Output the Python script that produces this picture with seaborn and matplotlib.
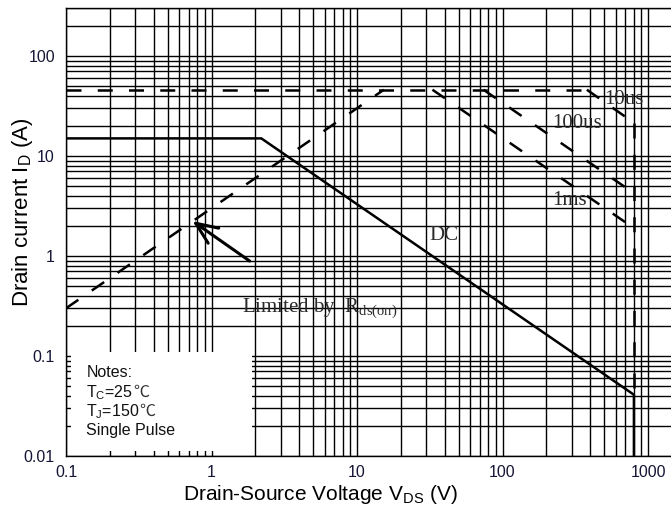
import numpy as np
import pandas as pd
import seaborn as sns
import matplotlib.pyplot as plt
from matplotlib.patches import Rectangle
from matplotlib.ticker import FixedLocator, LogLocator, NullFormatter

# safe operating area
dc_v = [0.1, 2.2, 800, 800]
dc_i = [15, 15, 0.041, 0.01]
rds_v = [0.1, 15.3]
rds_i = [0.3, 46]
idm_v = [0.1, 380]
idm_i = [46, 46]
p10us_v = [380, 800]
p10us_i = [46, 21.5]
p100us_v = [74, 800]
p100us_i = [46, 4.25]
p1ms_v = [33, 800]
p1ms_i = [46, 1.9]
bv_v = [800, 800]
bv_i = [21.5, 0.041]

xticks = [0.1, 1, 10, 100, 1000]
xticklabels = ['0.1', '1', '10', '100', '1000']
yticks = [0.01, 0.1, 1, 10, 100]
yticklabels = ['0.01', '0.1', '1', '10', '100']

notes = ['Notes:', r'T$_C$=25', r'T$_J$=150', 'Single Pulse']
notes_unit = ['', '℃', '℃', '']

sns.set_theme(style='white')
plt.rcParams['font.family'] = ['Liberation Sans', 'DejaVu Sans']
plt.rcParams['mathtext.default'] = 'regular'

fig = plt.figure(figsize=(6.71, 5.09), dpi=100)
ax = fig.add_axes([66 / 671, 53 / 509, 605 / 671, 448 / 509])
ax.set_xscale('log')
ax.set_yscale('log')

dash = (0, (6, 6.5))


def curve(v, i, ls='-'):
    sns.lineplot(x=v, y=i, ax=ax, color='black', lw=1.8, sort=False,
                 estimator=None, linestyle=ls, zorder=3)


curve(dc_v, dc_i)
curve(rds_v, rds_i, dash)
curve(idm_v, idm_i, dash)
curve(p10us_v, p10us_i, dash)
curve(p100us_v, p100us_i, dash)
curve(p1ms_v, p1ms_i, dash)
curve(bv_v, bv_i, dash)

ax.set_xlim(0.1, 1439)
ax.set_ylim(0.01, 302)

# dense log grid like the printed chart
for axis in [ax.xaxis, ax.yaxis]:
    axis.set_major_locator(FixedLocator(xticks if axis is ax.xaxis else yticks))
    axis.set_minor_locator(LogLocator(base=10, subs=np.arange(2, 10) * 1.0, numticks=20))
    axis.set_minor_formatter(NullFormatter())
ax.set_xticklabels(xticklabels)
ax.set_yticklabels(yticklabels)
ax.grid(True, which='both', color='black', lw=1.0)
ax.set_axisbelow(True)
ax.tick_params(which='both', length=0, labelsize=11.5, labelcolor='#151535')
ax.tick_params(axis='x', pad=6.5)
ax.tick_params(axis='y', pad=8)
for s in ax.spines.values():
    s.set_color('black')
    s.set_linewidth(1.0)
ax.spines['right'].set_visible(False)

ax.set_xlabel(r'Drain-Source Voltage V$_{DS}$ (V)', fontsize=15, color='black')
ax.set_ylabel(r'Drain current I$_D$ (A)', fontsize=16, color='black')
ax.xaxis.set_label_coords(0.42, -0.060)
ax.yaxis.set_label_coords(-0.051, 0.545)

# white notes box over the grid
ax.add_patch(Rectangle((0.108, 0.0112), 1.91 - 0.108, 0.11 - 0.0112,
                       facecolor='white', edgecolor='none', zorder=1))
for txt, unit, y in zip(notes, notes_unit, [0.0617, 0.0389, 0.0251, 0.0162]):
    t = ax.text(0.138, y, txt, fontsize=11.5, va='baseline', ha='left',
                color='#111111', zorder=4)
    if unit:
        ax.annotate(unit, xy=(1, y), xycoords=(t, 'data'), fontsize=11.5,
                    va='baseline', ha='left', color='#333333',
                    family=['Noto Sans CJK SC', 'DejaVu Sans'], zorder=4)

lab = dict(family='Liberation Serif', fontsize=15, color='#2a2a2a',
           va='center', ha='left', zorder=4)
ax.text(500, 37, '10us', **lab)
ax.text(220, 21, '100us', **lab)
ax.text(220, 3.6, '1ms', **lab)
ax.text(31.5, 1.6, 'DC', **lab)
ax.text(1.63, 0.30, r'Limited by  R$_{ds(on)}$', **lab)

ax.annotate('', xy=(0.74, 2.24), xytext=(1.83, 0.89),
            arrowprops=dict(arrowstyle='->,head_length=1.3,head_width=0.55',
                            lw=2.2, color='black', shrinkA=0, shrinkB=0),
            zorder=4)

fig.savefig('out.png', dpi=100)
